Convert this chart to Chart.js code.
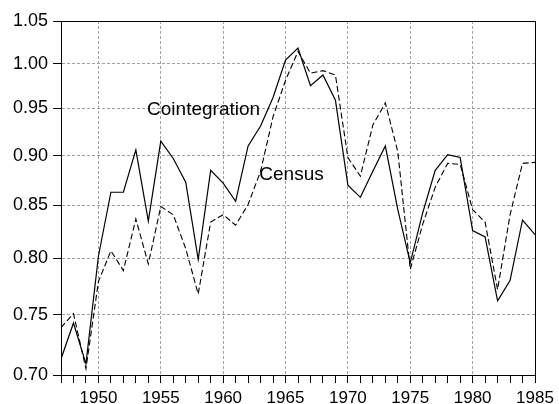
<!DOCTYPE html>
<html>
<head>
<meta charset="utf-8">
<script src="https://cdn.jsdelivr.net/npm/chart.js@4/dist/chart.umd.min.js"></script>
<style>
  html, body { margin: 0; padding: 0; background: #fff; }
  #wrap { width: 559px; height: 404px; }
</style>
</head>
<body>
<div id="wrap"><canvas id="myChart"></canvas></div>
<script>
// data
const years = [1947, 1948, 1949, 1950, 1951, 1952, 1953, 1954, 1955, 1956,
               1957, 1958, 1959, 1960, 1961, 1962, 1963, 1964, 1965, 1966,
               1967, 1968, 1969, 1970, 1971, 1972, 1973, 1974, 1975, 1976,
               1977, 1978, 1979, 1980, 1981, 1982, 1983, 1984, 1985];
const cointegration = [0.713, 0.743, 0.709, 0.802, 0.863, 0.863, 0.906, 0.835, 0.915, 0.897,
                       0.873, 0.799, 0.885, 0.872, 0.854, 0.910, 0.931, 0.962, 1.004, 1.018,
                       0.975, 0.987, 0.959, 0.870, 0.858, 0.884, 0.910, 0.846, 0.796, 0.843,
                       0.885, 0.901, 0.898, 0.826, 0.820, 0.762, 0.780, 0.836, 0.822];
const census = [0.739, 0.751, 0.705, 0.779, 0.807, 0.789, 0.837, 0.795, 0.849, 0.841,
                0.809, 0.768, 0.834, 0.841, 0.831, 0.851, 0.884, 0.941, 0.981, 1.014,
                0.989, 0.992, 0.987, 0.898, 0.879, 0.932, 0.956, 0.904, 0.790, 0.832,
                0.868, 0.892, 0.891, 0.846, 0.834, 0.772, 0.841, 0.892, 0.893];
const yTicks = [0.70, 0.75, 0.80, 0.85, 0.90, 0.95, 1.00, 1.05];
const xLabelYears = [1950, 1955, 1960, 1965, 1970, 1975, 1980, 1985];
// text labels inside the plot: [text, year, value]
const seriesLabels = [['Cointegration', 1953.9, 0.948], ['Census', 1962.9, 0.880]];

const toPoints = vals => vals.map((v, i) => ({ x: years[i], y: v }));
const FONT = '"Liberation Sans", Arial, sans-serif';

const frameAndLabels = {
    id: 'frameAndLabels',
    afterDatasetsDraw(chart) {
        const ctx = chart.ctx;
        const a = chart.chartArea;
        ctx.save();
        ctx.strokeStyle = '#000';
        ctx.lineWidth = 1;
        ctx.strokeRect(Math.round(a.left) + 0.5, Math.round(a.top) + 0.5,
                       Math.round(a.right - a.left), Math.round(a.bottom - a.top));
        ctx.fillStyle = '#000';
        ctx.font = '19px ' + FONT;
        ctx.textBaseline = 'middle';
        ctx.textAlign = 'left';
        seriesLabels.forEach(([t, yr, v]) => {
            ctx.fillText(t, chart.scales.x.getPixelForValue(yr), chart.scales.y.getPixelForValue(v));
        });
        ctx.restore();
    }
};

Chart.defaults.font.family = FONT;
Chart.defaults.font.size = 17;
Chart.defaults.color = '#000';

new Chart(document.getElementById('myChart'), {
    type: 'line',
    data: {
        datasets: [{
            label: 'Cointegration',
            data: toPoints(cointegration),
            borderColor: '#000',
            borderWidth: 1.2,
            pointRadius: 0,
            tension: 0
        }, {
            label: 'Census',
            data: toPoints(census),
            borderColor: '#000',
            borderWidth: 1.1,
            borderDash: [6, 3],
            pointRadius: 0,
            tension: 0
        }]
    },
    options: {
        animation: false,
        responsive: true,
        maintainAspectRatio: false,
        layout: { padding: { left: 0, top: 21, right: 24, bottom: 0 } },
        scales: {
            x: {
                type: 'linear',
                min: 1947,
                max: 1985,
                ticks: {
                    stepSize: 1,
                    autoSkip: false,
                    maxRotation: 0,
                    padding: 5,
                    font: { size: 17 },
                    callback: v => xLabelYears.includes(v) ? String(v) : ''
                },
                grid: {
                    color: c => xLabelYears.includes(c.tick && c.tick.value) ? '#a0a0a0' : 'rgba(0,0,0,0)',
                    tickColor: '#000',
                    tickLength: 8
                },
                border: { color: '#000', dash: [3, 2] },
                afterFit: s => { s.height = 29; }
            },
            y: {
                type: 'logarithmic',
                min: 0.70,
                max: 1.05,
                afterBuildTicks: s => { s.ticks = yTicks.map(v => ({ value: v })); },
                ticks: {
                    padding: 5,
                    font: { size: 18 },
                    callback: v => Number(v).toFixed(2)
                },
                grid: {
                    color: '#a0a0a0',
                    tickColor: '#000',
                    tickLength: 8
                },
                border: { color: '#000', dash: [3, 2] },
                afterFit: s => { s.width = 61; }
            }
        },
        plugins: {
            legend: { display: false },
            tooltip: { enabled: false }
        }
    },
    plugins: [frameAndLabels]
});
</script>
</body>
</html>
